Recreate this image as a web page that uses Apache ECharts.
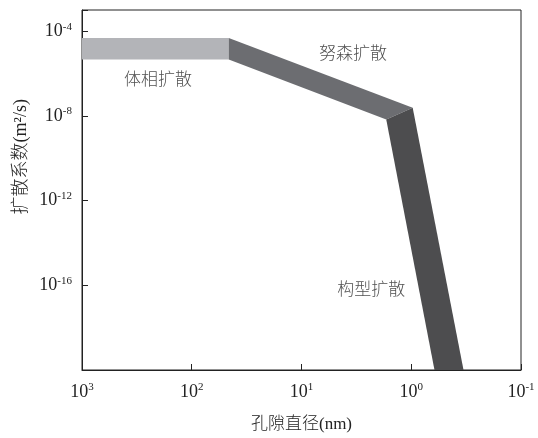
<!DOCTYPE html>
<html>
<head>
<meta charset="utf-8">
<script src="https://cdn.jsdelivr.net/npm/echarts@6/dist/echarts.min.js"></script>
<style>
html, body { margin: 0; padding: 0; background: #fff; }
#main { width: 538px; height: 438px; }
</style>
</head>
<body>
<div id="main"></div>
<script>
// 孔径 (nm) / 扩散系数 (m2/s) 各区域顶点
var bulkPts = [[1000, 4.7e-5], [46, 4.7e-5], [46, 4.6e-6], [1000, 4.6e-6]];
var knudsenPts = [[46, 4.7e-5], [0.97, 2.45e-8], [1.69, 6.7e-9], [46, 4.6e-6]];
var configPts = [[1.69, 6.7e-9], [0.97, 2.45e-8], [0.334, 1e-20], [0.614, 1e-20]];

var regionNames = ['体相扩散', '努森扩散', '构型扩散'];
var labelPos = [[203, 4.7e-7], [3.4, 7.7e-6], [2.32, 5.4e-17]];

var font = '"Liberation Serif", "Noto Sans CJK SC", serif';

function supLabel(value) {
	var e = Math.round(Math.log10(value));
	return '{b|10}{s|' + e + '}';
}

var richSup = {
	b: { fontSize: 18, fontFamily: font, color: '#222' },
	s: { fontSize: 11, fontFamily: font, color: '#222', verticalAlign: 'top', padding: [0, 0, 9, 0] }
};

function polygonSeries(pts, color) {
	return {
		type: 'custom',
		coordinateSystem: 'cartesian2d',
		data: pts,
		clip: true,
		silent: true,
		renderItem: function(params, api) {
			if (params.dataIndex !== 0) return;
			var points = pts.map(function(p) { return api.coord(p); });
			return {
				type: 'polygon',
				shape: { points: points },
				style: { fill: color, stroke: null }
			};
		}
	};
}

var myChart = echarts.init(document.getElementById('main'));

option = {
	animation: false,
	backgroundColor: '#fff',
	grid: {
		left: 82,
		right: 17,
		top: 10,
		bottom: 67,
		show: true,
		borderColor: '#222',
		borderWidth: 1
	},
	xAxis: {
		type: 'log',
		logBase: 10,
		inverse: true,
		min: 0.1,
		max: 1000,
		interval: 1,
		name: '孔隙直径(nm)',
		nameLocation: 'middle',
		nameGap: 46,
		nameTextStyle: { fontSize: 17, fontFamily: font, fontWeight: 300, color: '#222' },
		axisLine: { lineStyle: { color: '#222', width: 1 } },
		axisTick: { inside: true, length: 6, lineStyle: { color: '#222' } },
		splitLine: { show: false },
		minorTick: { show: false },
		axisLabel: {
			margin: 12,
			formatter: supLabel,
			rich: richSup
		}
	},
	yAxis: {
		type: 'log',
		logBase: 10,
		min: 1e-20,
		max: 1e-3,
		interval: 4,
		axisLine: { lineStyle: { color: '#222', width: 1 } },
		axisTick: { inside: true, length: 6, lineStyle: { color: '#222' } },
		splitLine: { show: false },
		axisLabel: {
			margin: 10,
			formatter: function(value) {
				var e = Math.round(Math.log10(value));
				if (e <= -20 || e >= -3) return '';
				return supLabel(value);
			},
			rich: richSup
		}
	},
	graphic: [{
		type: 'text',
		left: 12,
		top: 99,
		rotation: Math.PI / 2,
		originX: 0,
		originY: 0,
		style: {
			text: '扩散系数(m²/s)',
			fontSize: 18,
			fontFamily: font,
			fontWeight: 300,
			fill: '#222'
		}
	}],
	series: [
		polygonSeries(bulkPts, '#b3b4b8'),
		polygonSeries(knudsenPts, '#6c6d71'),
		polygonSeries(configPts, '#4d4d4f'),
		{
			type: 'scatter',
			symbolSize: 0,
			silent: true,
			data: labelPos.map(function(p, i) { return { value: p, name: regionNames[i] }; }),
			label: {
				show: true,
				position: 'inside',
				formatter: '{b}',
				fontSize: 17,
				fontFamily: font,
				fontWeight: 300,
				color: '#222'
			}
		}
	]
};

myChart.setOption(option);

window.addEventListener('resize', function() {
	myChart.resize();
});
</script>
</body>
</html>
